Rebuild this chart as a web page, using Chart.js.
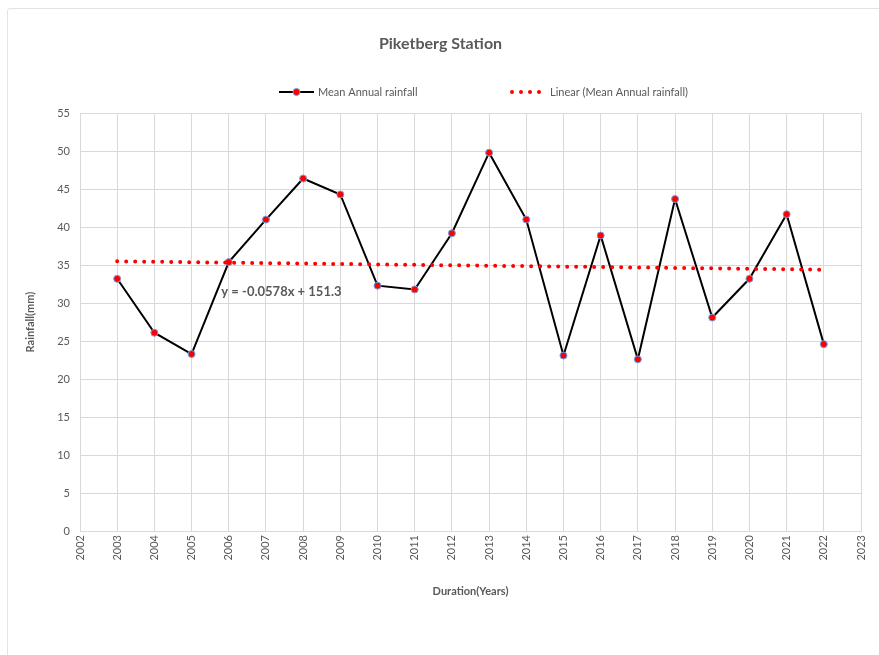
<!DOCTYPE html>
<html>
<head>
<meta charset="utf-8">
<script src="https://cdn.jsdelivr.net/npm/chart.js@4.4.0/dist/chart.umd.min.js"></script>
<style>
  html, body { margin: 0; padding: 0; background: #fff; overflow: hidden; }
  #frame { position: absolute; left: 7px; top: 8px; width: 900px; height: 700px; border: 1px solid #e3e3e3; border-radius: 3px; }
  #wrap { position: absolute; left: 0; top: 0; width: 879px; height: 655px; }
</style>
</head>
<body>
<div id="frame"></div>
<div id="wrap"><canvas id="chart" width="879" height="655"></canvas></div>
<script>
// Dados
const years = [2003, 2004, 2005, 2006, 2007, 2008, 2009, 2010, 2011, 2012,
               2013, 2014, 2015, 2016, 2017, 2018, 2019, 2020, 2021, 2022];
const rainfall = [33.2, 26.1, 23.3, 35.4, 41.0, 46.4, 44.3, 32.3, 31.8, 39.2,
                  49.8, 41.0, 23.1, 38.9, 22.6, 43.7, 28.1, 33.2, 41.7, 24.6];
// Linha de tendência (extremos)
const trendYears = [2003, 2022];
const trendValues = [35.5, 34.4];
const trendLabel = 'y = -0.0578x + 151.3';
const yTicks = [0, 5, 10, 15, 20, 25, 30, 35, 40, 45, 50, 55];

const textGray = '#595959';
const gridGray = '#d9d9d9';
const fontFamily = 'Lato, "Open Sans", sans-serif';

// Legenda e rótulo da equação desenhados à mão
const customDraw = {
  id: 'customDraw',
  afterDraw(chart) {
    const ctx = chart.ctx;
    const x = chart.scales.x, y = chart.scales.y;
    ctx.save();

    // equação
    ctx.fillStyle = textGray;
    ctx.font = 'bold 13px ' + fontFamily;
    ctx.textAlign = 'left';
    ctx.textBaseline = 'middle';
    ctx.fillText(trendLabel, x.getPixelForValue(2005.8), y.getPixelForValue(31.5));

    // legenda
    const ly = 92;
    ctx.strokeStyle = '#000';
    ctx.lineWidth = 2;
    ctx.beginPath();
    ctx.moveTo(279, ly);
    ctx.lineTo(314, ly);
    ctx.stroke();
    ctx.beginPath();
    ctx.arc(296.5, ly, 3.5, 0, Math.PI * 2);
    ctx.fillStyle = '#ff0000';
    ctx.fill();
    ctx.lineWidth = 1;
    ctx.strokeStyle = '#6f9fe6';
    ctx.stroke();

    ctx.font = '11px ' + fontFamily;
    ctx.fillStyle = textGray;
    ctx.fillText('Mean Annual rainfall', 318, ly);

    ctx.fillStyle = '#ff0000';
    for (let i = 0; i < 4; i++) {
      ctx.beginPath();
      ctx.arc(512 + i * 9, ly, 2, 0, Math.PI * 2);
      ctx.fill();
    }
    ctx.fillStyle = textGray;
    ctx.fillText('Linear (Mean Annual rainfall)', 550, ly);

    ctx.restore();
  }
};

const ctx = document.getElementById('chart').getContext('2d');
new Chart(ctx, {
  type: 'line',
  data: {
    datasets: [{
      label: 'Mean Annual rainfall',
      data: years.map((yr, i) => ({ x: yr, y: rainfall[i] })),
      borderColor: '#000',
      borderWidth: 2,
      pointBackgroundColor: '#ff0000',
      pointBorderColor: '#6f9fe6',
      pointBorderWidth: 1,
      pointRadius: 3.5,
      tension: 0,
      order: 1
    }, {
      label: 'Linear (Mean Annual rainfall)',
      data: trendYears.map((yr, i) => ({ x: yr, y: trendValues[i] })),
      borderColor: '#ff0000',
      borderWidth: 4,
      borderDash: [0, 9],
      borderCapStyle: 'round',
      pointRadius: 0,
      tension: 0,
      order: 0
    }]
  },
  options: {
    responsive: false,
    animation: false,
    layout: { padding: { left: 20, right: 18, top: 0, bottom: 53 } },
    plugins: {
      legend: { display: false },
      tooltip: { enabled: false },
      title: {
        display: true,
        text: 'Piketberg Station',
        color: textGray,
        font: { family: fontFamily, size: 16, weight: 'bold' },
        padding: { top: 34, bottom: 60 }
      }
    },
    scales: {
      x: {
        type: 'linear',
        min: 2002,
        max: 2023,
        afterFit(scale) { scale.height = 71; },
        ticks: {
          stepSize: 1,
          color: textGray,
          font: { family: fontFamily, size: 11 },
          minRotation: 90,
          maxRotation: 90,
          padding: 4,
          callback: (v) => String(v)
        },
        grid: { color: gridGray, drawTicks: false },
        border: { color: gridGray },
        title: {
          display: true,
          text: 'Duration(Years)',
          color: textGray,
          font: { family: fontFamily, size: 11, weight: 'bold' }
        }
      },
      y: {
        min: 0,
        max: 55,
        afterFit(scale) { scale.width = 60; },
        afterBuildTicks(scale) { scale.ticks = yTicks.map(v => ({ value: v })); },
        ticks: {
          color: textGray,
          font: { family: fontFamily, size: 11 },
          padding: 10
        },
        grid: { color: gridGray, drawTicks: false },
        border: { color: gridGray },
        title: {
          display: true,
          text: 'Rainfall(mm)',
          color: textGray,
          font: { family: fontFamily, size: 11, weight: 'bold' }
        }
      }
    }
  },
  plugins: [customDraw]
});
</script>
</body>
</html>
